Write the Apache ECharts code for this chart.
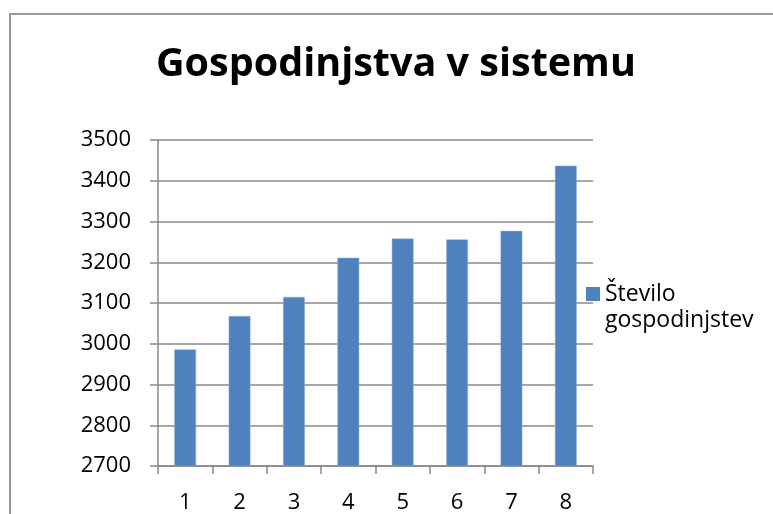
<!DOCTYPE html>
<html><head><meta charset="utf-8">
<script src="https://cdn.jsdelivr.net/npm/echarts@6/dist/echarts.min.js"></script>
<style>html,body{margin:0;padding:0;background:#fff}#c{width:773px;height:514px}</style>
</head><body><div id="c"></div>
<script>
const categories = ['1','2','3','4','5','6','7','8'];
const seriesName = 'Število gospodinjstev';
const values = [2986, 3068, 3115, 3211, 3258, 3256, 3277, 3437];
const titleText = 'Gospodinjstva v sistemu';
const yMin = 2700, yMax = 3500, yStep = 100;

const chart = echarts.init(document.getElementById('c'), null, {renderer:'canvas'});
const font = '"Open Sans", "Liberation Sans", sans-serif';
chart.setOption({
  animation: false,
  backgroundColor: '#fff',
  graphic: [{type:'rect', shape:{x:10, y:14, width:800, height:540}, style:{fill:'none', stroke:'#999', lineWidth:2}, silent:true}],
  title: {text: titleText, left: 156, top: 45, padding:0, textStyle:{fontFamily:font, fontWeight:'bold', fontSize:39.5, color:'#000'}},
  grid: {left:158, right:180, top:140, bottom:46},
  legend: {
    left: 586, top: 281, padding:0, orient:'vertical',
    icon:'path://M0,0h0.001v0.001h-0.001z M0,6h14v14h-14z M0,52h0.001v0.001h-0.001z',
    itemWidth:14, itemHeight:52, itemGap:0,
    itemStyle:{borderWidth:0, color:'#4F81BD'},
    formatter: () => 'Število\ngospodinjstev',
    textStyle: {fontFamily:font, fontSize:23, color:'#000', lineHeight:26}
  },
  xAxis: {
    type:'category', data: categories,
    axisLine:{lineStyle:{color:'#888', width:1.5}},
    axisTick:{show:true, length:8, lineStyle:{color:'#888', width:1.5}},
    axisLabel:{fontFamily:font, fontSize:22, color:'#000', margin:26}
  },
  yAxis: {
    type:'value', min:yMin, max:yMax, interval:yStep,
    axisLine:{show:true, lineStyle:{color:'#888', width:1.5}},
    axisTick:{show:true, length:8, lineStyle:{color:'#888', width:1.5}},
    splitLine:{lineStyle:{color:'#888', width:1.5}},
    axisLabel:{fontFamily:font, fontSize:22, color:'#000', margin:27, formatter: v => String(v)}
  },
  series: [{
    name: seriesName, type:'bar', data: values, barWidth:'40%',
    itemStyle:{color:'#4F81BD', borderColor:'#8DB0DA', borderWidth:0.5}
  }]
});
</script></body></html>
